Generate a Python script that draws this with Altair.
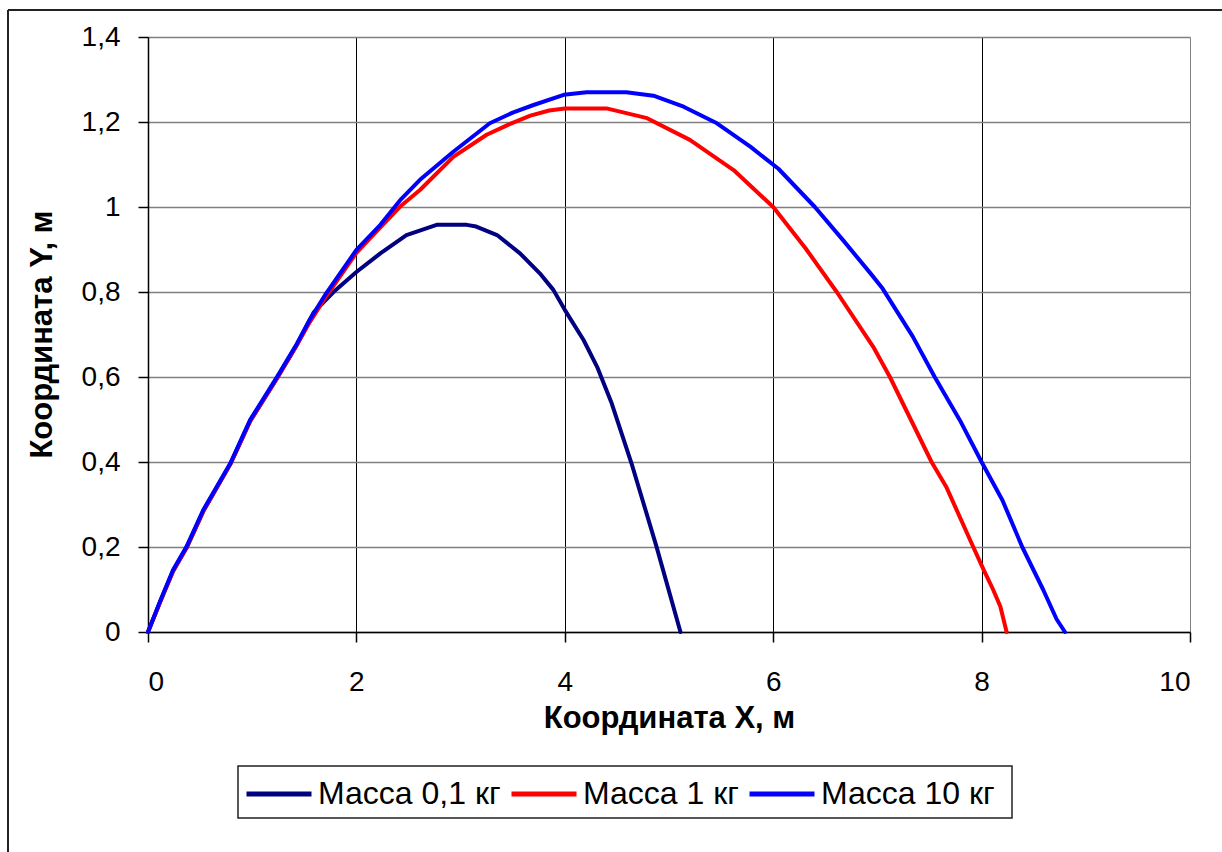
import altair as alt
import pandas as pd

# Trajectory of a thrown body for three masses (x, y in metres)
series_names = ["Масса 0,1 кг", "Масса 1 кг", "Масса 10 кг"]
series_colors = ["#000080", "#FF0000", "#0000FF"]

x_m01 = [0, 0.12, 0.24, 0.37, 0.53, 0.79, 0.98, 1.24, 1.43, 1.59, 1.78, 2.0, 2.23,
         2.48, 2.77, 3.06, 3.15, 3.35, 3.57, 3.76, 3.89, 4.0, 4.18, 4.31, 4.45,
         4.64, 4.88, 5.11]
y_m01 = [0, 0.073, 0.143, 0.198, 0.284, 0.395, 0.496, 0.598, 0.676, 0.752, 0.800,
         0.847, 0.891, 0.934, 0.958, 0.958, 0.954, 0.934, 0.891, 0.844, 0.805,
         0.758, 0.687, 0.624, 0.538, 0.397, 0.201, 0]

x_m1 = [0, 0.12, 0.24, 0.37, 0.53, 0.79, 0.98, 1.24, 1.43, 1.55, 1.71, 2.0, 2.23,
        2.42, 2.61, 2.93, 3.25, 3.47, 3.67, 3.85, 4.0, 4.40, 4.79, 5.20, 5.62, 6.0,
        6.31, 6.61, 6.96, 7.12, 7.52, 7.66, 7.92, 8.02, 8.11, 8.18, 8.24]
y_m1 = [0, 0.073, 0.143, 0.198, 0.284, 0.395, 0.496, 0.598, 0.676, 0.728, 0.79,
        0.892, 0.952, 1.001, 1.04, 1.118, 1.170, 1.195, 1.215, 1.227, 1.232, 1.232,
        1.209, 1.158, 1.087, 1.0, 0.903, 0.8, 0.671, 0.6, 0.4, 0.342, 0.2, 0.146,
        0.1, 0.06, 0]

x_m10 = [0, 0.12, 0.24, 0.37, 0.53, 0.79, 0.98, 1.24, 1.43, 1.55, 1.71, 2.0, 2.23,
         2.42, 2.61, 2.93, 3.28, 3.50, 3.70, 3.99, 4.21, 4.59, 4.85, 5.14, 5.46,
         5.78, 6.05, 6.40, 6.67, 6.93, 7.05, 7.34, 7.55, 7.79, 8.0, 8.2, 8.39,
         8.59, 8.72, 8.80]
y_m10 = [0, 0.075, 0.146, 0.201, 0.287, 0.397, 0.499, 0.601, 0.679, 0.734, 0.797,
         0.899, 0.958, 1.016, 1.064, 1.130, 1.197, 1.222, 1.240, 1.264, 1.270,
         1.270, 1.262, 1.236, 1.197, 1.142, 1.090, 1.0, 0.922, 0.845, 0.808,
         0.695, 0.6, 0.499, 0.4, 0.31, 0.2, 0.1, 0.03, 0]

x_ticks = [0, 2, 4, 6, 8, 10]
y_ticks = [0, 0.2, 0.4, 0.6, 0.8, 1, 1.2, 1.4]

rows = []
for name, xs, ys in zip(series_names, [x_m01, x_m1, x_m10], [y_m01, y_m1, y_m10]):
    for i, (xv, yv) in enumerate(zip(xs, ys)):
        rows.append({"series": name, "x": xv, "y": yv, "i": i})
df = pd.DataFrame(rows)

FONT = "Liberation Sans"

lines = alt.Chart(df).mark_line(strokeWidth=4, strokeCap="round", strokeJoin="round").encode(
    x=alt.X("x:Q", scale=alt.Scale(domain=[0, 10], nice=False),
            axis=alt.Axis(values=x_ticks, title="Координата X, м",
                          gridColor={"condition": {"test": "datum.value == 10", "value": "#808080"},
                                     "value": "#000000"},
                          gridWidth=1, tickSize=10, tickColor="#000", domainColor="#000",
                          labelPadding=26, titleY=95, titleBaseline="alphabetic")),
    y=alt.Y("y:Q", scale=alt.Scale(domain=[0, 1.4], nice=False),
            axis=alt.Axis(values=y_ticks, title="Координата Y, м",
                          labelExpr="replace(format(datum.value, '~g'), '.', ',')",
                          gridColor="#808080", gridWidth=1.5, tickSize=10, tickColor="#000",
                          domainColor="#000", labelPadding=18,
                          titleX=-97, titleY=297, titleAngle=270, titleBaseline="alphabetic",
                          titleAlign="center")),
    color=alt.Color("series:N",
                    scale=alt.Scale(domain=series_names, range=series_colors),
                    legend=alt.Legend(title=None, orient="none", direction="horizontal",
                                      columns=3, legendX=96, legendY=722,
                                      symbolType="stroke", symbolSize=4225,
                                      symbolStrokeWidth=5, labelFontSize=32,
                                      labelFont=FONT, labelColor="#000", labelLimit=0,
                                      labelOffset=4, columnPadding=0, padding=0,
                                      strokeColor=None)),
    order="i:Q",
)

one = pd.DataFrame({"k": [0]})
# outer chart frame (left and top edges)
frame_left = alt.Chart(one).mark_rule(color="#222", strokeWidth=2).encode(
    x=alt.value(-140), y=alt.value(-27), y2=alt.value(815))
frame_top = alt.Chart(one).mark_rule(color="#222", strokeWidth=2).encode(
    x=alt.value(-140), x2=alt.value(1074), y=alt.value(-27))
# box around the legend
legend_box = alt.Chart(one).mark_rect(fill=None, stroke="#222", strokeWidth=1.5).encode(
    x=alt.value(90), x2=alt.value(864), y=alt.value(729), y2=alt.value(781))

chart = alt.layer(lines, frame_left, frame_top, legend_box).properties(
    width=1042, height=595,
    padding={"left": 148, "top": 37, "right": 32, "bottom": 220},
    autosize=alt.AutoSizeParams(type="none"),
    background="#ffffff",
).configure_view(
    stroke=None
).configure_axis(
    labelFont=FONT, labelFontSize=28, labelColor="#000",
    titleFont=FONT, titleFontSize=31, titleFontWeight="bold", titleColor="#000",
    domainWidth=1.5, tickWidth=1.5,
)

chart.save("out.html", embed_options={"renderer": "svg", "actions": False})
